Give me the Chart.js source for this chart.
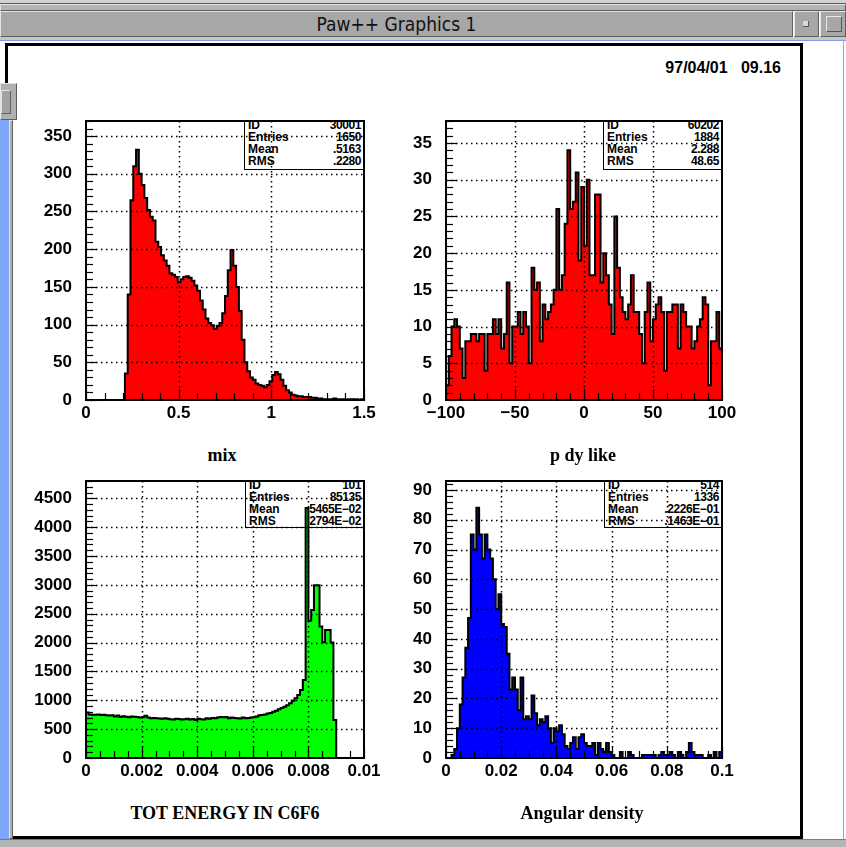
<!DOCTYPE html>
<html lang="en">
<head>
<meta charset="UTF-8">
<title>Paw++ Graphics 1</title>
<script src="https://cdn.jsdelivr.net/npm/chart.js@4.4.0/dist/chart.umd.min.js"></script>
<style>
    body {
        margin: 0;
        width: 846px;
        height: 847px;
        overflow: hidden;
        position: relative;
        background: #fff;
        font-family: "Liberation Sans", Arial, sans-serif;
    }
    .abs { position: absolute; box-sizing: border-box; }
    .bevel { border-top: 1px solid #e4e4e4; border-left: 1px solid #e4e4e4; border-right: 1px solid #5e5e5e; border-bottom: 1px solid #5e5e5e; }
    .stat {
        position: absolute; box-sizing: border-box;
        background: #fff; border: 1.5px solid #000;
        overflow: hidden; font-weight: bold; font-size: 12px;
    }
    .stat div { position: absolute; left: 3px; right: 2px; height: 12px; line-height: 12px; }
    .stat span { float: right; letter-spacing: -0.4px; }
    .axt {
        position: absolute; width: 300px; text-align: center;
        font-family: "Liberation Serif", "Times New Roman", serif;
        font-weight: bold; font-size: 18px; line-height: 20px;
    }
    canvas { position: absolute; }
</style>
</head>
<body>
<!-- window chrome -->
<div class="abs" style="left:0;top:0;width:846px;height:4px;background:#d2d2d2;border-bottom:1px solid #5a5a5a"></div>
<div class="abs bevel" style="left:0;top:4px;width:846px;height:7px;background:#b4b4b4"></div>
<div class="abs bevel" style="left:0;top:11px;width:793px;height:26px;background:#a7a7a7"></div>
<div class="abs" style="left:0;top:11px;width:793px;height:26px;text-align:center;line-height:26px;font-family:'Liberation Sans Narrow','DejaVu Sans Condensed',sans-serif;font-size:19px;color:#111">Paw++ Graphics 1</div>
<div class="abs bevel" style="left:794px;top:11px;width:25px;height:26px;background:#a7a7a7"></div>
<div class="abs" style="left:803px;top:21px;width:6px;height:6px;background:#d8d8d8;border-right:1px solid #555;border-bottom:1px solid #555"></div>
<div class="abs bevel" style="left:820px;top:11px;width:26px;height:26px;background:#a7a7a7"></div>
<div class="abs" style="left:826px;top:16px;width:16px;height:16px;border:1px solid #555;border-top-color:#e8e8e8;border-left-color:#e8e8e8"></div>
<div class="abs" style="left:0;top:37px;width:846px;height:3px;background:#c6c6c6"></div>
<div class="abs" style="left:0;top:40px;width:846px;height:1px;background:#7f9fe0"></div>
<div class="abs" style="left:843px;top:40px;width:1px;height:800px;background:#8fa8e0"></div>
<div class="abs" style="left:5px;top:43px;width:798px;height:796px;border:3px solid #000"></div>
<div class="abs" style="left:0;top:839px;width:846px;height:8px;background:#b4b4b4;border-top:1px solid #7a7a7a"></div>
<div class="abs bevel" style="left:0;top:83px;width:17px;height:37px;background:#b0b0b0"></div>
<div class="abs bevel" style="left:1px;top:90px;width:10px;height:24px;background:#a2a2a2"></div>
<div class="abs" style="left:0;top:120px;width:9px;height:719px;background:#7ea6fa"></div>
<div class="abs bevel" style="left:9px;top:120px;width:4px;height:719px;background:#b0b0b0"></div>

<div class="abs" style="left:580px;top:59px;width:201px;text-align:right;font-weight:bold;font-size:16px;white-space:pre">97/04/01   09.16</div>

<!-- stat boxes (under the canvases) -->
<div class="stat" style="left:244px;top:121px;width:120px;height:49px">
    <div style="top:-3px">ID<span>30001</span></div>
    <div style="top:9px">Entries<span>1650</span></div>
    <div style="top:21px">Mean<span>.5163</span></div>
    <div style="top:33px">RMS<span>.2280</span></div>
</div>
<div class="stat" style="left:603px;top:121px;width:119px;height:49px">
    <div style="top:-3px">ID<span>60202</span></div>
    <div style="top:9px">Entries<span>1884</span></div>
    <div style="top:21px">Mean<span>2.288</span></div>
    <div style="top:33px">RMS<span>48.65</span></div>
</div>
<div class="stat" style="left:245px;top:481px;width:119px;height:47px">
    <div style="top:-3px">ID<span>101</span></div>
    <div style="top:9px">Entries<span>85135</span></div>
    <div style="top:21px">Mean<span>.5465E&minus;02</span></div>
    <div style="top:33px">RMS<span>.2794E&minus;02</span></div>
</div>
<div class="stat" style="left:604px;top:481px;width:118px;height:47px">
    <div style="top:-3px">ID<span>514</span></div>
    <div style="top:9px">Entries<span>1336</span></div>
    <div style="top:21px">Mean<span>.2226E&minus;01</span></div>
    <div style="top:33px">RMS<span>.1463E&minus;01</span></div>
</div>

<canvas id="h1"></canvas>
<canvas id="h2"></canvas>
<canvas id="h3"></canvas>
<canvas id="h4"></canvas>

<div class="axt" style="left:72px;top:445px">mix</div>
<div class="axt" style="left:433px;top:445px">p dy like</div>
<div class="axt" style="left:75px;top:803px">TOT ENERGY IN C6F6</div>
<div class="axt" style="left:432px;top:803px">Angular density</div>

<script>
// 100 bins each
const mixCounts = [
    0, 0, 0, 0, 0, 0, 0, 0, 0, 0, 0, 0, 0, 0, 35, 140, 265, 310, 332, 300,
    285, 268, 252, 243, 238, 210, 203, 192, 185, 178, 168, 166, 163, 156, 160, 163, 164, 162, 158, 152,
    145, 132, 120, 108, 102, 99, 94, 98, 102, 115, 138, 172, 199, 178, 150, 118, 80, 50, 38, 30,
    27, 22, 20, 19, 17, 20, 25, 33, 37, 34, 27, 19, 13, 10, 7, 6, 5, 5, 4, 4,
    4, 3, 3, 2, 2, 1, 1, 1, 1, 2, 1, 1, 1, 0, 1, 1, 1, 1, 0, 1
];
const pdyCounts = [
    2, 6, 10, 11, 10, 7, 3, 8, 8, 9, 9, 8, 9, 9, 4, 9, 9, 11, 9, 11,
    7, 9, 16, 5, 10, 10, 12, 9, 12, 10, 5, 18, 15, 16, 8, 13, 11, 12, 13, 15,
    26, 15, 17, 24, 34, 26, 27, 31, 19, 29, 21, 30, 17, 17, 28, 28, 16, 20, 17, 13,
    9, 25, 18, 14, 12, 11, 13, 17, 12, 12, 9, 5, 12, 16, 8, 11, 13, 14, 12, 4,
    12, 12, 13, 13, 7, 13, 12, 10, 10, 7, 8, 10, 11, 14, 13, 2, 8, 8, 12, 7
];
const totCounts = [
    790, 755, 750, 748, 752, 745, 748, 742, 735, 740, 720, 735, 710, 725, 715, 705, 720, 715, 710, 700,
    705, 730, 700, 690, 695, 690, 685, 680, 690, 680, 670, 665, 680, 675, 665, 670, 680, 665, 675, 660,
    680, 670, 665, 690, 680, 695, 690, 700, 710, 705, 710, 690, 700, 695, 690, 685, 700, 690, 695, 700,
    705, 720, 740, 745, 755, 770, 780, 800, 820, 845, 865, 890, 915, 950, 990, 1035, 1090, 1180, 1350, 4330,
    2380, 2565, 2995, 2995, 2280, 2005, 2220, 2220, 2000, 660, 0, 0, 0, 0, 0, 0, 0, 0, 0, 0
];
const angCounts = [
    0, 0, 1, 3, 10, 18, 27, 37, 47, 75, 70, 84, 75, 67, 75, 70, 67, 60, 50, 55,
    45, 44, 35, 23, 27, 23, 16, 27, 13, 14, 13, 21, 15, 11, 13, 12, 14, 10, 5, 10,
    9, 11, 8, 4, 3, 5, 7, 3, 7, 8, 5, 4, 4, 5, 1, 5, 3, 2, 5, 2,
    1, 0, 0, 2, 0, 0, 2, 1, 0, 0, 0, 1, 1, 1, 1, 1, 0, 1, 2, 1,
    1, 2, 1, 0, 2, 1, 0, 2, 5, 2, 1, 1, 1, 0, 0, 1, 0, 2, 0, 2
];

const mixXTicks = [0, 0.5, 1, 1.5];
const mixXLabels = ['0', '0.5', '1', '1.5'];
const mixYTicks = [0, 50, 100, 150, 200, 250, 300, 350];

const pdyXTicks = [-100, -50, 0, 50, 100];
const pdyXLabels = ['\u2212100', '\u221250', '0', '50', '100'];
const pdyYTicks = [0, 5, 10, 15, 20, 25, 30, 35];

const totXTicks = [0, 0.002, 0.004, 0.006, 0.008, 0.01];
const totXLabels = ['0', '0.002', '0.004', '0.006', '0.008', '0.01'];
const totYTicks = [0, 500, 1000, 1500, 2000, 2500, 3000, 3500, 4000, 4500];

const angXTicks = [0, 0.02, 0.04, 0.06, 0.08, 0.1];
const angXLabels = ['0', '0.02', '0.04', '0.06', '0.08', '0.1'];
const angYTicks = [0, 10, 20, 30, 40, 50, 60, 70, 80, 90];

const PAD_L = 80, PAD_T = 16, PAD_R = 20, AX_H = 36;
const tickFont = { family: 'Liberation Sans', size: 17, weight: 'bold' };

// PAW look: dotted grid over the fill, inward ticks, solid frame
const pawFrame = {
    id: 'pawFrame',
    afterDatasetsDraw(chart, args, opts) {
        const { ctx, chartArea: a, scales: { x, y } } = chart;
        ctx.save();
        ctx.strokeStyle = '#000';
        ctx.lineWidth = 1.5;
        ctx.setLineDash([1.5, 3.5]);
        x.ticks.forEach(t => {
            const px = Math.round(x.getPixelForValue(t.value)) + 0.5;
            if (px < a.left + 2 || px > a.right - 2) return;
            ctx.beginPath(); ctx.moveTo(px, a.top); ctx.lineTo(px, a.bottom); ctx.stroke();
        });
        y.ticks.forEach(t => {
            const py = Math.round(y.getPixelForValue(t.value)) + 0.5;
            if (py < a.top + 2 || py > a.bottom - 2) return;
            ctx.beginPath(); ctx.moveTo(a.left, py); ctx.lineTo(a.right, py); ctx.stroke();
        });
        ctx.setLineDash([]);
        ctx.lineWidth = 1.2;
        const nx = Math.round((x.max - x.min) / opts.xMinor);
        for (let k = 0; k <= nx; k++) {
            const px = Math.round(x.getPixelForValue(x.min + k * opts.xMinor)) + 0.5;
            const len = k % opts.xPer === 0 ? 11 : 7;
            ctx.beginPath(); ctx.moveTo(px, a.bottom); ctx.lineTo(px, a.bottom - len); ctx.stroke();
        }
        const ny = Math.floor(y.max / opts.yMinor + 1e-6);
        for (let k = 0; k <= ny; k++) {
            const py = Math.round(y.getPixelForValue(k * opts.yMinor)) + 0.5;
            const len = k % opts.yPer === 0 ? 11 : 7;
            ctx.beginPath(); ctx.moveTo(a.left, py); ctx.lineTo(a.left + len, py); ctx.stroke();
        }
        ctx.lineWidth = 2;
        ctx.strokeRect(a.left, a.top, a.right - a.left, a.bottom - a.top);
        ctx.restore();
    }
};

function histChart(id, box, p) {
    const el = document.getElementById(id);
    const w = box.x1 - box.x0 + PAD_L + PAD_R;
    const h = box.y1 - box.y0 + PAD_T + AX_H;
    el.width = w; el.height = h;
    el.style.left = (box.x0 - PAD_L) + 'px';
    el.style.top = (box.y0 - PAD_T) + 'px';
    el.style.width = w + 'px'; el.style.height = h + 'px';

    const bw = (p.xmax - p.xmin) / p.counts.length;
    const pts = [{ x: p.xmin, y: 0 }];
    p.counts.forEach((c, i) => pts.push({ x: p.xmin + i * bw, y: c }));
    pts.push({ x: p.xmax, y: 0 });

    new Chart(el, {
        type: 'line',
        data: {
            datasets: [{
                data: pts,
                stepped: 'before',
                fill: 'origin',
                backgroundColor: p.color,
                borderColor: '#000',
                borderWidth: 2,
                pointRadius: 0,
                tension: 0
            }]
        },
        options: {
            responsive: false,
            animation: false,
            events: [],
            layout: { padding: { left: 0, top: PAD_T, right: PAD_R, bottom: 0 } },
            plugins: {
                legend: { display: false },
                tooltip: { enabled: false },
                pawFrame: p.minor
            },
            scales: {
                x: {
                    type: 'linear',
                    min: p.xmin,
                    max: p.xmax,
                    afterBuildTicks: s => { s.ticks = p.xTicks.map(v => ({ value: v })); },
                    afterFit: s => { s.height = AX_H; s.paddingLeft = 0; s.paddingRight = 0; },
                    grid: { display: false, drawTicks: false },
                    border: { display: false },
                    ticks: {
                        autoSkip: false, maxRotation: 0, padding: 3,
                        color: '#000', font: tickFont,
                        callback: (v, i) => p.xLabels[i]
                    }
                },
                y: {
                    type: 'linear',
                    min: 0,
                    max: p.ymax,
                    afterBuildTicks: s => { s.ticks = p.yTicks.map(v => ({ value: v })); },
                    afterFit: s => { s.width = PAD_L; s.paddingTop = 0; s.paddingBottom = 0; },
                    grid: { display: false, drawTicks: false },
                    border: { display: false },
                    ticks: {
                        autoSkip: false, padding: 14,
                        color: '#000', font: tickFont,
                        callback: v => String(v)
                    }
                }
            }
        },
        plugins: [pawFrame]
    });
}

histChart('h1', { x0: 86, x1: 364, y0: 121, y1: 400 }, {
    counts: mixCounts, xmin: 0, xmax: 1.5, ymax: 370, color: '#ff0000',
    xTicks: mixXTicks, xLabels: mixXLabels, yTicks: mixYTicks,
    minor: { xMinor: 0.1, xPer: 5, yMinor: 10, yPer: 5 }
});
histChart('h2', { x0: 446, x1: 722, y0: 121, y1: 400 }, {
    counts: pdyCounts, xmin: -100, xmax: 100, ymax: 38, color: '#ff0000',
    xTicks: pdyXTicks, xLabels: pdyXLabels, yTicks: pdyYTicks,
    minor: { xMinor: 10, xPer: 5, yMinor: 1, yPer: 5 }
});
histChart('h3', { x0: 86, x1: 364, y0: 481, y1: 758 }, {
    counts: totCounts, xmin: 0, xmax: 0.01, ymax: 4800, color: '#00ff00',
    xTicks: totXTicks, xLabels: totXLabels, yTicks: totYTicks,
    minor: { xMinor: 0.0005, xPer: 4, yMinor: 100, yPer: 5 }
});
histChart('h4', { x0: 446, x1: 722, y0: 481, y1: 758 }, {
    counts: angCounts, xmin: 0, xmax: 0.1, ymax: 93, color: '#0000ff',
    xTicks: angXTicks, xLabels: angXLabels, yTicks: angYTicks,
    minor: { xMinor: 0.005, xPer: 4, yMinor: 2, yPer: 5 }
});
</script>
</body>
</html>
